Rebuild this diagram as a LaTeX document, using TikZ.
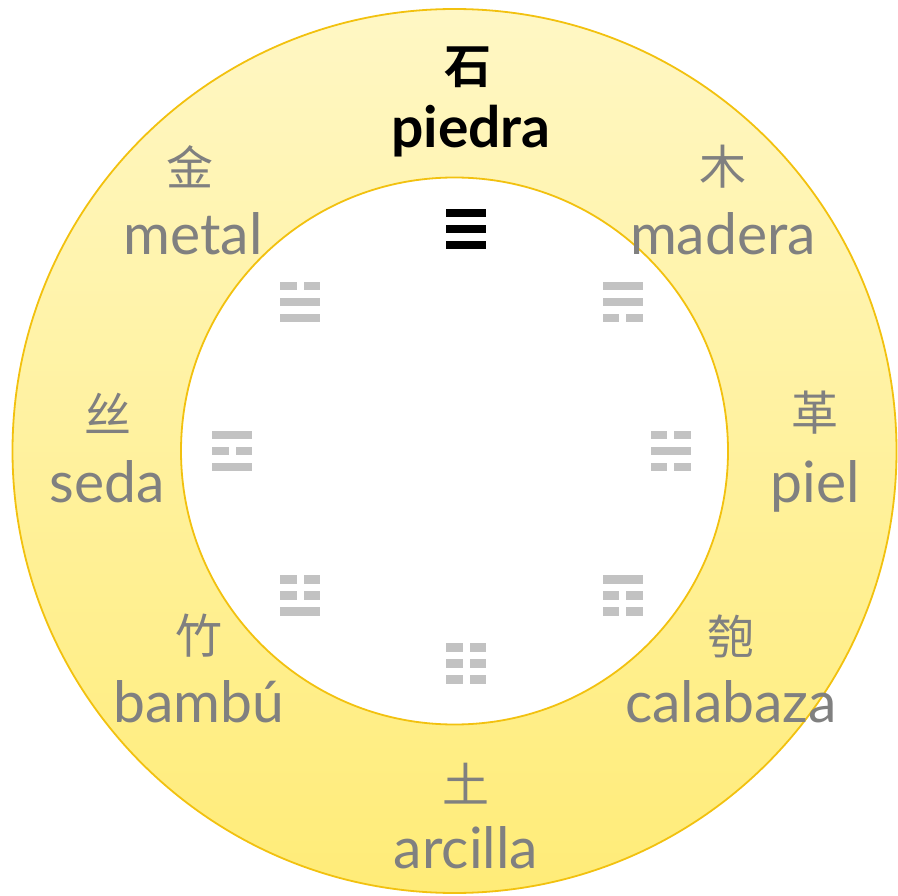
\documentclass[tikz,border=0pt]{standalone}
\usepackage{fontspec}
\setmainfont{Lato}
\newfontfamily\cjk{Noto Sans CJK SC}
\newfontfamily\cjkb{Noto Sans CJK SC Bold}
\definecolor{ringtop}{HTML}{FFF7C4}
\definecolor{ringbot}{HTML}{FFEC78}
\definecolor{ringline}{HTML}{F2C10F}
\definecolor{labgrey}{HTML}{808080}
\definecolor{trigrey}{HTML}{C2C2C2}
\newcommand{\trbar}[4]{% x y solid? color  (x,y = centre of bar)
  \ifnum#3=1
    \fill[#4] (#1-20,#2-4.3) rectangle (#1+20,#2+4.3);
  \else
    \fill[#4] (#1-20,#2-4.3) rectangle (#1-3.5,#2+4.3);
    \fill[#4] (#1+3.5,#2-4.3) rectangle (#1+20,#2+4.3);
  \fi}
\newcommand{\trigram}[6]{% x y top mid bottom color
  \trbar{#1}{#2-16}{#3}{#6}
  \trbar{#1}{#2}{#4}{#6}
  \trbar{#1}{#2+16}{#5}{#6}}
\begin{document}
\begin{tikzpicture}[x=1pt,y=-1pt,
  lab/.style={font=\fontsize{57}{62}\selectfont, text=labgrey, anchor=base, inner sep=0pt},
  hanzi/.style={font=\cjk\fontsize{47}{50}\selectfont, text=labgrey, anchor=center, inner sep=0pt}]
\useasboundingbox (0,0) rectangle (898,896);
\coordinate (c) at (454.5,451);
\shade[top color=ringtop, bottom color=ringbot] (c) circle (442);
\draw[ringline, line width=1.8pt] (c) circle (442);
\fill[white] (c) circle (273.5);
\draw[ringline, line width=1.8pt] (c) circle (273.5);

% trigrams
\trigram{466}{229}{1}{1}{1}{black}
\trigram{622.5}{302}{1}{1}{0}{trigrey}
\trigram{670.5}{451}{0}{1}{0}{trigrey}
\trigram{622.5}{595.5}{1}{0}{0}{trigrey}
\trigram{466}{663.5}{0}{0}{0}{trigrey}
\trigram{300}{595.5}{0}{0}{1}{trigrey}
\trigram{232}{451}{1}{0}{1}{trigrey}
\trigram{300}{302}{0}{1}{1}{trigrey}

% labels
\node[hanzi, font=\cjkb\fontsize{47}{50}\selectfont, text=black] (h1) at (468,67) {石};
\node[lab, font=\bfseries\fontsize{57}{62}\selectfont, text=black] (t1) at (471,148) {piedra};
\node[hanzi] (h2) at (723,167) {木};
\node[lab] (t2) at (723,255) {madera};
\node[hanzi] (h3) at (815,413) {革};
\node[lab] (t3) at (815,502) {piel};
\node[hanzi] (h4) at (731,636) {匏};
\node[lab] (t4) at (731,722) {calabaza};
\node[hanzi] (h5) at (466,784) {土};
\node[lab] (t5) at (466,868) {arcilla};
\node[hanzi] (h6) at (199,636) {竹};
\node[lab] (t6) at (199,722) {bambú};
\node[hanzi] (h7) at (108,413) {丝};
\node[lab] (t7) at (107,502) {seda};
\node[hanzi] (h8) at (190,167) {金};
\node[lab] (t8) at (193,255) {metal};
\end{tikzpicture}
\end{document}
